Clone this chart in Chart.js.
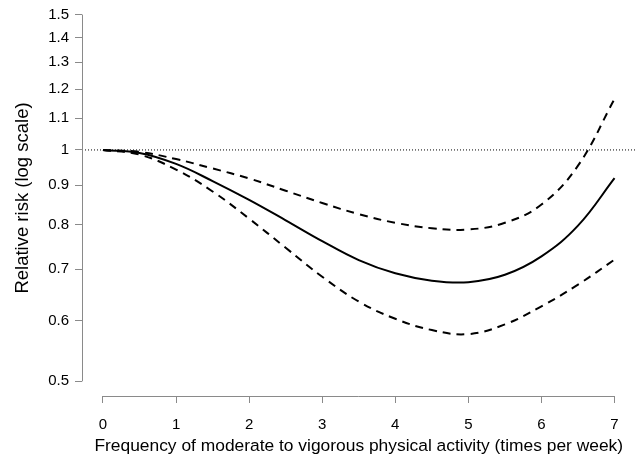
<!DOCTYPE html>
<html>
<head>
<meta charset="utf-8">
<script src="https://cdn.jsdelivr.net/npm/chart.js@4.4.1/dist/chart.umd.min.js"></script>
<style>
  html, body { margin: 0; padding: 0; background: #fff; }
  #wrap { width: 640px; height: 460px; }
</style>
</head>
<body>
<div id="wrap"><canvas id="chart" width="640" height="460"></canvas></div>
<script>
// values
const xs = [0, 0.5, 1, 1.5, 2, 2.5, 3, 3.5, 4, 4.5, 5, 5.5, 6, 6.5, 7];
const riskMid = [1.0, 0.991, 0.959, 0.911, 0.861, 0.810, 0.761, 0.719, 0.691, 0.676, 0.673, 0.688, 0.727, 0.797, 0.919];
const riskUpper = [1.0, 0.994, 0.973, 0.946, 0.918, 0.885, 0.853, 0.825, 0.804, 0.791, 0.788, 0.804, 0.849, 0.954, 1.165];
const riskLower = [1.0, 0.986, 0.943, 0.883, 0.814, 0.746, 0.684, 0.635, 0.603, 0.583, 0.576, 0.593, 0.626, 0.668, 0.720];
const refX = [-0.287, 7.287];
const refY = [1, 1];

const xTicks = [0, 1, 2, 3, 4, 5, 6, 7];
const yTicks = [0.5, 0.6, 0.7, 0.8, 0.9, 1, 1.1, 1.2, 1.3, 1.4, 1.5];
const yTickLabels = ['0.5', '0.6', '0.7', '0.8', '0.9', '1', '1.1', '1.2', '1.3', '1.4', '1.5'];

const pts = (xv, yv) => xv.map((x, i) => ({ x: x, y: yv[i] }));
const axisGrey = '#8a8a8a';
const fontFam = '"Liberation Sans", Arial, sans-serif';

// R style axes: line only over the tick range
const axisLines = {
    id: 'axisLines',
    afterDraw(chart) {
        const { ctx, chartArea, scales } = chart;
        const x = scales.x, y = scales.y;
        ctx.save();
        ctx.strokeStyle = axisGrey;
        ctx.lineWidth = 1;
        ctx.beginPath();
        const by = Math.round(chartArea.bottom) + 0.5;
        ctx.moveTo(x.getPixelForValue(xTicks[0]), by);
        ctx.lineTo(x.getPixelForValue(xTicks[xTicks.length - 1]), by);
        const lx = Math.round(chartArea.left) + 0.5;
        ctx.moveTo(lx, y.getPixelForValue(yTicks[0]));
        ctx.lineTo(lx, y.getPixelForValue(yTicks[yTicks.length - 1]));
        ctx.stroke();
        ctx.restore();
    }
};

const curve = {
    borderColor: '#000',
    borderWidth: 2,
    pointRadius: 0,
    tension: 0.4
};

new Chart(document.getElementById('chart'), {
    type: 'line',
    data: {
        datasets: [
            {
                data: pts(refX, refY),
                borderColor: '#000',
                borderWidth: 1,
                borderDash: [1, 2],
                pointRadius: 0
            },
            { ...curve, data: pts(xs, riskUpper), borderDash: [8, 6] },
            { ...curve, data: pts(xs, riskLower), borderDash: [8, 6] },
            { ...curve, data: pts(xs, riskMid) }
        ]
    },
    options: {
        responsive: false,
        animation: false,
        layout: { padding: { left: 0, right: 4.5, top: 0, bottom: 0 } },
        plugins: { legend: { display: false }, tooltip: { enabled: false } },
        scales: {
            x: {
                type: 'linear',
                min: -0.287,
                max: 7.287,
                afterFit(s) { s.height = 64; s.paddingLeft = 0; s.paddingRight = 0; },
                afterBuildTicks(s) { s.ticks = xTicks.map(v => ({ value: v })); },
                border: { display: false },
                grid: { drawOnChartArea: false, drawTicks: true, tickLength: 7, color: axisGrey },
                ticks: {
                    color: '#000',
                    font: { family: fontFam, size: 15 },
                    padding: 13,
                    maxRotation: 0,
                    callback: (v) => String(v)
                },
                title: {
                    display: true,
                    text: 'Frequency of moderate to vigorous physical activity (times per week)',
                    color: '#000',
                    font: { family: fontFam, size: 17.4 },
                    padding: { top: 0, bottom: 3 }
                }
            },
            y: {
                type: 'logarithmic',
                min: 0.4785,
                max: 1.567,
                afterFit(s) { s.width = 82; s.paddingTop = 0; s.paddingBottom = 0; },
                afterBuildTicks(s) { s.ticks = yTicks.map(v => ({ value: v })); },
                border: { display: false },
                grid: { drawOnChartArea: false, drawTicks: true, tickLength: 7, color: axisGrey },
                ticks: {
                    color: '#000',
                    font: { family: fontFam, size: 15 },
                    padding: 6,
                    callback: (v, i) => yTickLabels[i]
                },
                title: {
                    display: true,
                    text: 'Relative risk (log scale)',
                    color: '#000',
                    font: { family: fontFam, size: 18.5 },
                    padding: { top: 12, bottom: 0 }
                }
            }
        }
    },
    plugins: [axisLines]
});
</script>
</body>
</html>
